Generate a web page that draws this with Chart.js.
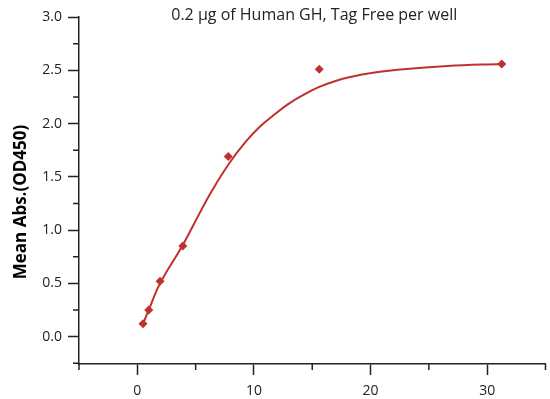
<!DOCTYPE html>
<html>
<head>
<meta charset="utf-8">
<script src="https://cdn.jsdelivr.net/npm/chart.js@4/dist/chart.umd.min.js"></script>
<style>
html,body{margin:0;padding:0;background:#fff;}
#wrap{width:550px;height:399px;position:relative;}
</style>
</head>
<body>
<div id="wrap"><canvas id="c" width="550" height="399"></canvas></div>
<script>
// Measured points (concentration, mean absorbance)
const concX = [0.49, 0.98, 1.95, 3.9, 7.8, 15.6, 31.25];
const absY  = [0.12, 0.25, 0.52, 0.85, 1.69, 2.51, 2.56];
// Fitted curve
const fitX = [0.49, 0.98, 1.95, 3.9, 5.3, 6.4, 7.9, 9.3, 10.5, 11.7, 12.9, 14.1, 15.5, 17.0, 18.4, 19.8, 22.3, 26.6, 31.25];
const fitY = [0.12, 0.25, 0.50, 0.86, 1.15, 1.37, 1.63, 1.83, 1.97, 2.08, 2.18, 2.26, 2.34, 2.40, 2.44, 2.47, 2.505, 2.54, 2.56];
// Tick labels
const xTicks = [0, 10, 20, 30];
const yTicks = [0.0, 0.5, 1.0, 1.5, 2.0, 2.5, 3.0];
const xMinorTicks = [-5, 5, 15, 25, 35];
const yMinorTicks = [-0.25, 0.25, 0.75, 1.25, 1.75, 2.25, 2.75];
const chartTitle = '0.2 \u03bcg of Human GH, Tag Free per well';
const yTitle = 'Mean Abs.(OD450)';

const RED = '#c0302f';
const AXIS = '#222';
const FONT = "'Open Sans', 'DejaVu Sans', sans-serif";

const extras = {
  id: 'extras',
  afterDraw(chart) {
    const ctx = chart.ctx;
    const xs = chart.scales.x, ys = chart.scales.y;
    const area = chart.chartArea;
    ctx.save();
    ctx.strokeStyle = AXIS;
    ctx.lineWidth = 1.5;
    ctx.beginPath();
    xMinorTicks.forEach(v => {
      const px = xs.getPixelForValue(v);
      ctx.moveTo(px, area.bottom);
      ctx.lineTo(px, area.bottom + 6);
    });
    yMinorTicks.forEach(v => {
      const py = ys.getPixelForValue(v);
      ctx.moveTo(area.left, py);
      ctx.lineTo(area.left - 6, py);
    });
    ctx.stroke();
    ctx.fillStyle = '#222';
    ctx.font = "16px " + FONT;
    ctx.textAlign = 'center';
    ctx.textBaseline = 'middle';
    ctx.fillText(chartTitle, (area.left + area.right) / 2 + 2, 15);
    ctx.translate(21, 202);
    ctx.rotate(-Math.PI / 2);
    ctx.fillStyle = '#000';
    ctx.font = "bold 17px " + FONT;
    ctx.fillText(yTitle, 0, 0);
    ctx.restore();
  }
};

new Chart(document.getElementById('c'), {
  type: 'scatter',
  data: {
    datasets: [
      {
        label: 'points',
        data: concX.map((x, i) => ({x: x, y: absY[i]})),
        pointStyle: 'rectRot',
        pointRadius: 4.5,
        pointBackgroundColor: RED,
        pointBorderColor: RED,
        pointBorderWidth: 0,
        showLine: false,
        order: 0
      },
      {
        label: 'fit',
        data: fitX.map((x, i) => ({x: x, y: fitY[i]})),
        showLine: true,
        pointRadius: 0,
        borderColor: RED,
        borderWidth: 2,
        tension: 0.4,
        fill: false,
        order: 1
      }
    ]
  },
  options: {
    responsive: false,
    animation: false,
    layout: {padding: {top: 17, right: 1, left: 0, bottom: 0}},
    plugins: {
      legend: {display: false},
      tooltip: {enabled: false},
      title: {display: false}
    },
    scales: {
      x: {
        type: 'linear',
        min: -5, max: 35,
        afterBuildTicks: s => { s.ticks = xTicks.map(v => ({value: v})); },
        afterFit: s => { s.height = 35; },
        grid: {display: true, drawOnChartArea: false, drawTicks: true, tickLength: 11, tickColor: AXIS, tickWidth: 1.5},
        border: {display: true, color: AXIS, width: 1.5},
        ticks: {color: '#222', font: {family: FONT, size: 14}, padding: 8, maxRotation: 0}
      },
      y: {
        type: 'linear',
        min: -0.257, max: 3.0,
        afterBuildTicks: s => { s.ticks = yTicks.map(v => ({value: v})); },
        afterFit: s => { s.width = 79; },
        grid: {display: true, drawOnChartArea: false, drawTicks: true, tickLength: 11, tickColor: AXIS, tickWidth: 1.5},
        border: {display: true, color: AXIS, width: 1.5},
        ticks: {color: '#222', font: {family: FONT, size: 14}, padding: 6,
                callback: v => Number(v).toFixed(1)}
      }
    }
  },
  plugins: [extras]
});
</script>
</body>
</html>
